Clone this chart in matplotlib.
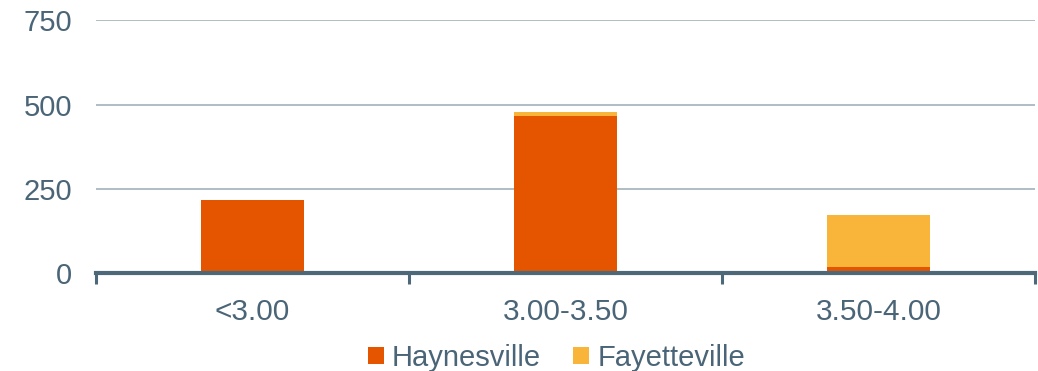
import matplotlib

matplotlib.use("Agg")
import matplotlib.pyplot as plt
import numpy as np

plt.rcParams["font.family"] = ["Liberation Sans", "DejaVu Sans"]

categories = ["<3.00", "3.00-3.50", "3.50-4.00"]
haynesville = [218, 466, 19]
fayetteville = [0, 12, 153]

TEXT = "#4a6577"
AXIS = "#4d6878"
GRID = "#a3b1ba"
ORANGE = "#e55500"
YELLOW = "#f9b43a"

fig = plt.figure(figsize=(10.38, 3.71), dpi=100)
ax = fig.add_axes([0.0925, 0.264, 0.9045, 0.681])

x = np.arange(len(categories))
w = 0.33
ax.bar(x, haynesville, w, color=ORANGE, linewidth=0, label="Haynesville", zorder=3)
ax.bar(x, fayetteville, w, bottom=haynesville, color=YELLOW, linewidth=0,
       label="Fayetteville", zorder=3)

ax.set_xlim(-0.5, len(categories) - 0.5)
ax.set_ylim(0, 750)
ax.set_yticks([0, 250, 500, 750])
ax.yaxis.grid(True, color=GRID, linewidth=1.2, zorder=0)
ax.tick_params(axis="y", length=0, pad=17, labelsize=21, labelcolor=TEXT)

ax.set_xticks(x)
ax.set_xticklabels(categories)
ax.tick_params(axis="x", which="major", length=0, pad=18, labelsize=21.4,
               labelcolor=TEXT)
ax.set_xticks(np.arange(-0.5, len(categories)), minor=True)
ax.tick_params(axis="x", which="minor", length=8, width=2.2, color=AXIS,
               direction="out")

for side in ["top", "right", "left"]:
    ax.spines[side].set_visible(False)
ax.spines["bottom"].set_color(AXIS)
ax.spines["bottom"].set_linewidth(3)
ax.spines["bottom"].set_zorder(4)

fig.legend(loc="center", bbox_to_anchor=(0.536, 0.036), ncol=2, frameon=False,
           fontsize=21, labelcolor=TEXT, handlelength=0.55, handleheight=0.55,
           handletextpad=0.28, columnspacing=1.1, borderaxespad=0)

fig.savefig("out.png", dpi=100)
